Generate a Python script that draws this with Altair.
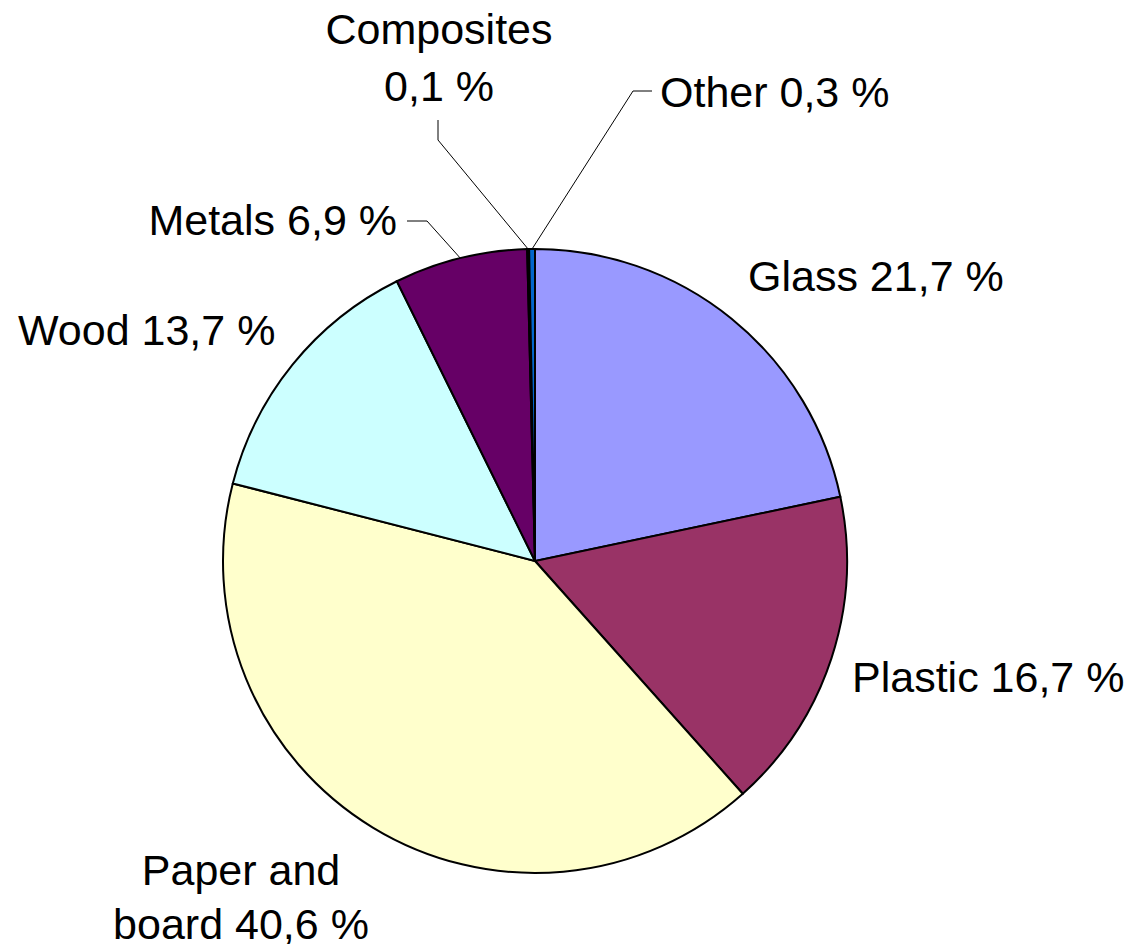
import math
import altair as alt
import pandas as pd

# ---- data ----
categories = ["Glass", "Plastic", "Paper and board", "Wood", "Metals", "Composites", "Other"]
shares = [21.7, 16.7, 40.6, 13.7, 6.9, 0.1, 0.3]
colors = ["#9999FF", "#993366", "#FFFFCC", "#CCFFFF", "#660066", "#FF8080", "#0066CC"]

# ---- layout (view pixels) ----
W, H = 1117, 936
CX, CY, R = 527, 553, 312
FONT = "Liberation Sans"
FS = 43

# label anchor x, first-line baseline y, alignment, line-break form, line height
label_layout = {
    "Glass":           dict(x=740, y=283, align="left"),
    "Plastic":         dict(x=844, y=684, align="left"),
    "Paper and board": dict(x=233, y=877, align="center", brk="Paper and\nboard ", lh=54),
    "Wood":            dict(x=10,  y=337, align="left"),
    "Metals":          dict(x=389, y=227, align="right"),
    "Composites":      dict(x=431, y=36,  align="center", brk="Composites\n", lh=57),
    "Other":           dict(x=652, y=99,  align="left"),
}
# leader lines: elbow and end points (view pixels); start is on the rim at slice mid-angle
leader_layout = {
    "Composites": [(430, 132), (430, 112)],
    "Other":      [(625, 83), (644, 83)],
    "Metals":     [(419, 213), (399, 213)],
}


def fmt(v):
    return f"{v:.1f}".replace(".", ",") + " %"


pie_df = pd.DataFrame({
    "category": categories,
    "share": shares,
    "order": list(range(len(categories))),
})

labels = []
for c, s in zip(categories, shares):
    lay = label_layout[c]
    prefix = lay.get("brk", c + " ")
    labels.append(dict(category=c, text=prefix + fmt(s), px=lay["x"], py=lay["y"],
                       align=lay["align"], lh=lay.get("lh", 56)))
label_df = pd.DataFrame(labels)

# rim points at mid-angles of slices
total = sum(shares)
cum = 0.0
mid = {}
for c, s in zip(categories, shares):
    mid[c] = (cum + s / 2) / total * 2 * math.pi
    cum += s

lines = []
for c, pts in leader_layout.items():
    a = mid[c]
    rim = (CX + R * math.sin(a), CY - R * math.cos(a))
    for i, (x, y) in enumerate([rim] + pts):
        lines.append(dict(category=c, idx=i, px=x, py=y))
line_df = pd.DataFrame(lines)

pie = alt.Chart(pie_df).mark_arc(
    outerRadius=R, stroke="black", strokeWidth=2
).encode(
    theta=alt.Theta("share:Q", stack=True),
    color=alt.Color("category:N", scale=alt.Scale(domain=categories, range=colors), legend=None),
    order=alt.Order("order:Q", sort="ascending"),
    x=alt.value(CX),
    y=alt.value(CY),
)

leaders = alt.Chart(line_df).mark_line(color="black", strokeWidth=1).encode(
    x=alt.X("px:Q", scale=None, axis=None),
    y=alt.Y("py:Q", scale=None, axis=None),
    detail="category:N",
    order="idx:Q",
)

text_layers = []
for (al, lh), sub in label_df.groupby(["align", "lh"]):
    text_layers.append(
        alt.Chart(sub).mark_text(
            align=al, baseline="alphabetic", font=FONT, fontSize=FS,
            color="black", lineBreak="\n", lineHeight=int(lh),
        ).encode(
            x=alt.X("px:Q", scale=None, axis=None),
            y=alt.Y("py:Q", scale=None, axis=None),
            text="text:N",
        )
    )

chart = alt.layer(pie, leaders, *text_layers).properties(
    width=W, height=H, padding=0, autosize=alt.AutoSizeParams(type="none"),
    background="white",
).configure_view(strokeWidth=0)

chart.save("out.html", embed_options={"renderer": "svg", "actions": False})
